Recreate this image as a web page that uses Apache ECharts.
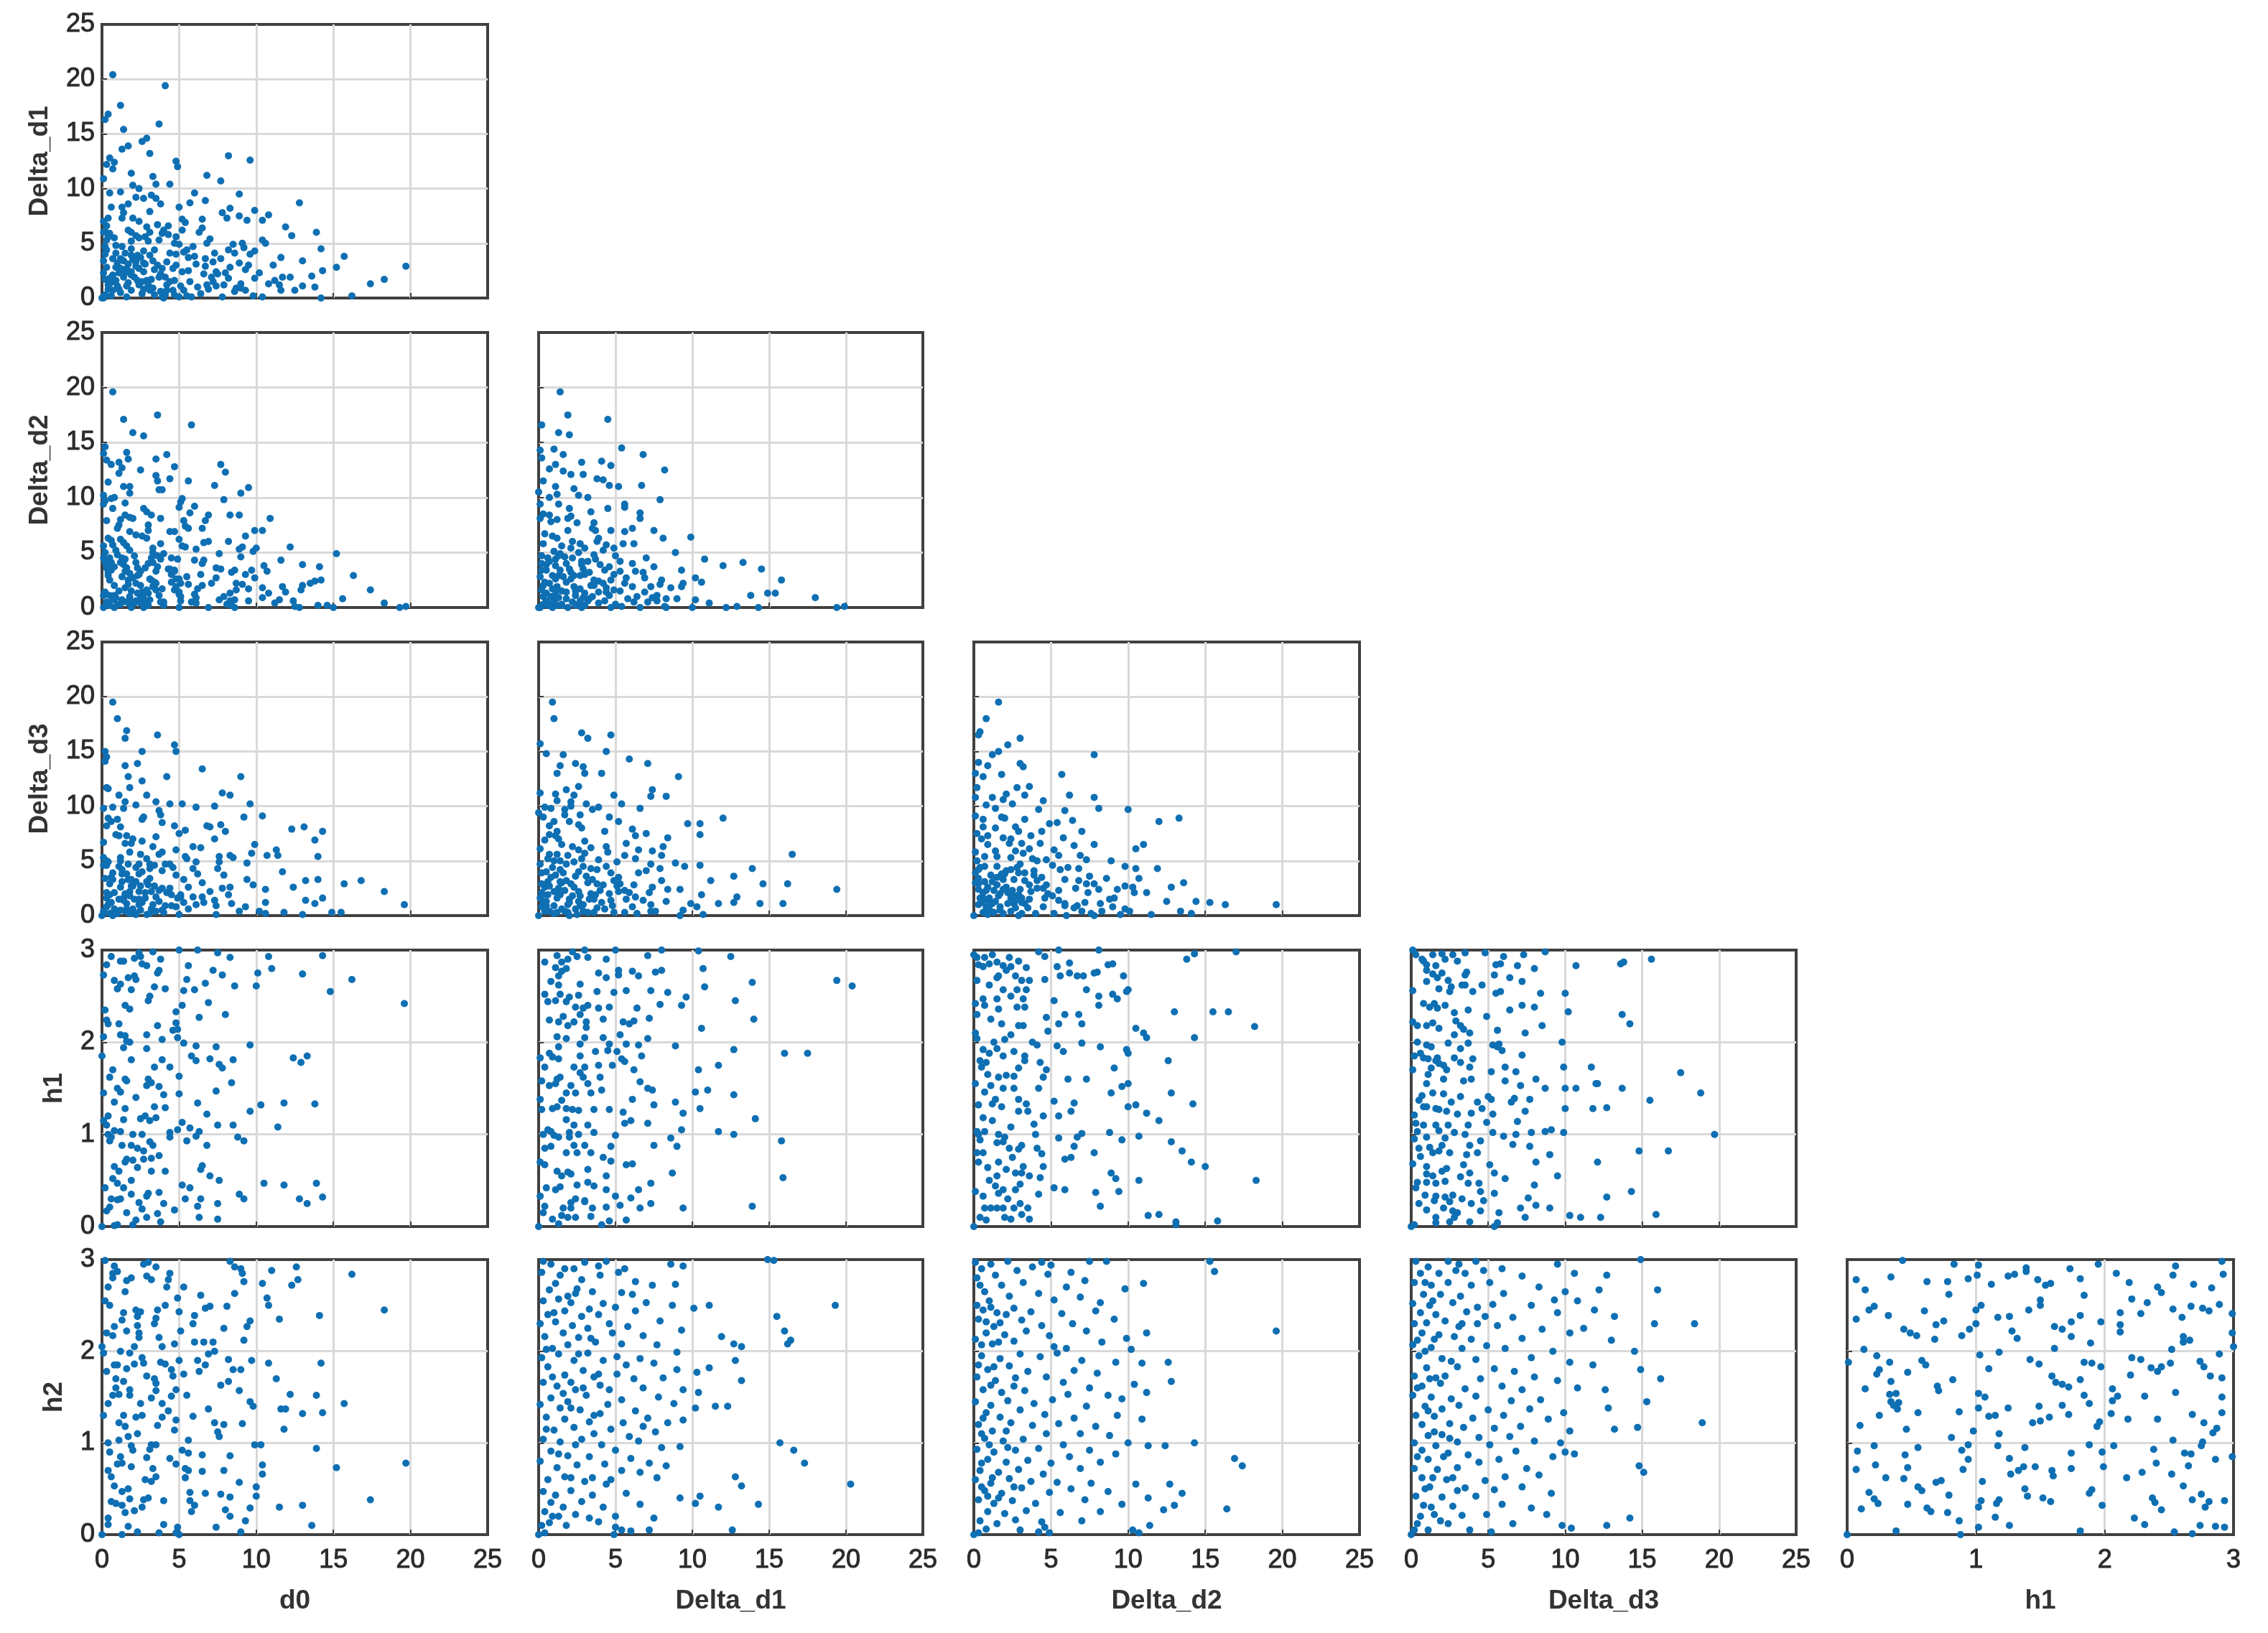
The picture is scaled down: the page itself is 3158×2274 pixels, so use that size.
<!DOCTYPE html>
<html><head><meta charset="utf-8">
<script src="https://cdn.jsdelivr.net/npm/echarts@6/dist/echarts.min.js"></script>
<style>html,body{margin:0;padding:0;background:#fff}#c{width:3158px;height:2274px}</style>
</head><body><div id="c"></div>
<script>
const variables = ['d0','Delta_d1','Delta_d2','Delta_d3','h1','h2'];

const d0_Dd1 = [[.7,20.4],[4.1,19.4],[1.2,17.6],[.4,16.8],[.2,16.3],[3.7,15.9],[1.4,15.4],[2.9,14.6],[2.6,14.3],[1.7,13.9],[1.3,13.6],[3.1,13.2],[8.2,13],[9.6,12.6],[.5,12.8],[4.8,12.5],[.8,12.4],[.3,12.2],[4.9,12],[.7,11.8],[1.9,11.4],[6.8,11.2],[3.3,11.1],[7.7,10.7],[3.5,10.4],[4.4,10.4],[.1,10.9],[2,10.3],[2.4,10],[6,9.6],[8.9,9.5],[1.2,9.7],[.5,9.6],[3.2,9.4],[2.2,9.2],[2.7,9.1],[3.5,9.1],[6.7,8.9],[12.8,8.7],[3.8,8.6],[5.7,8.7],[1.7,8.6],[5,8.3],[.6,8.3],[1.3,8.3],[8.3,8.2],[9.9,8],[3.1,7.9],[7.8,7.8],[1.4,7.8],[10.8,7.6],[8.1,7.3],[8.9,7.5],[10.4,7.1],[2,7.3],[1.3,7.3],[.4,7.3],[9.4,7.1],[6.5,7.2],[5.2,7.2],[2.4,7],[.1,7],[5.4,6.9],[11.9,6.5],[3.6,6.7],[4.3,6.6],[.3,6.6],[6.5,6.4],[2.9,6.5],[1.7,6.2],[4,6.2],[5.2,6.2],[13.9,6],[6.3,6],[12.3,5.7],[.2,6.1],[3.1,6],[4.3,5.8],[.4,5.6],[2.8,5.6],[2.4,5.5],[4.8,5.6],[7,5.4],[10.4,5.3],[3.7,5.3],[1.9,5.2],[10.6,5],[6.8,5],[3,5.2],[8.5,4.9],[9.1,5],[.9,4.8],[14.2,4.5],[.2,4.7],[5,4.9],[5.9,4.7],[1.3,4.7],[1.9,4.5],[8.2,4.4],[9.2,4.6],[2.7,4.3],[9.9,4.3],[9.6,4],[5.3,4.2],[4.4,4.1],[4.8,4],[7.3,4.1],[.9,4.1],[1.5,4.1],[8.6,4.1],[2.3,3.9],[6,3.8],[11.6,3.7],[15.7,3.8],[5.6,3.7],[7.7,3.6],[6.7,3.6],[1.2,3.6],[2,3.5],[3.3,3.4],[13,3.4],[7.2,3.3],[8.9,3.2],[4.8,3],[6.1,3.1],[1,3.2],[1.7,3.1],[2.7,3.2],[6.7,2.9],[3.6,3],[11.1,3],[19.7,2.9],[15.2,2.8],[9.5,3],[2.2,2.9],[.9,2.8],[.3,2.8],[1.6,2.7],[3.9,2.7],[8.3,2.8],[9.3,2.6],[14.3,2.5],[10.2,2.3],[5.6,2.5],[7.4,2.4],[2.7,2.4],[5.2,2.4],[.1,2.3],[1.1,2.3],[3.8,2.2],[4.7,1.6],[8,2.3],[7.5,2.2],[.7,2.1],[1.9,2.1],[2.1,1.9],[4.1,1.9],[13.6,2],[12.2,1.9],[18.3,1.7],[9.9,1.8],[7.1,1.9],[8.2,1.8],[11.7,1.9],[11.2,1.6],[3.2,1.7],[2.6,1.5],[4.4,1.5],[7.2,1.5],[.7,1.5],[1.7,1.4],[17.4,1.3],[10.8,1.3],[11.5,1.2],[6.8,1.2],[2.4,1.2],[5.1,1.1],[.5,1.3],[3,1.2],[9,1.3],[1,1.1],[13.8,1],[13,1.1],[6.9,.8],[7.4,1.1],[9,.9],[2.7,.8],[4.2,.7],[.4,.8],[1.1,.8],[12.5,.7],[11.6,.7],[8.6,.6],[9.3,.7],[5.3,.7],[6.4,.4],[3.4,.3],[4.1,.3],[4.7,.3],[5.5,.2],[16.2,.2],[14.2,0],[10.4,.1],[9.8,.2],[.2,.3],[.6,.2],[1.6,.1],[3.9,.1],[5,.1],[5.8,.1],[7.8,.1],[.1,0],[4,0],[0,0],[.3,4.4],[.7,3.6],[1.4,3.4],[1.9,3.9],[2.2,3.3],[2.5,3.7],[1.2,2.7],[1.5,2.3],[1.9,2.4],[2.4,2.7],[.5,1.8],[.9,1.6],[1.4,1.9],[2.3,1.6],[2.9,1.6],[3.4,2.6],[3.7,1.9],[4.2,1.2],[4.6,.7],[3.8,.6],[3.1,.7],[2.6,.4],[1.9,.7],[1.2,.5],[.7,.7],[.4,1.2],[.2,1.7],[.1,3.4],[.2,4],[.3,5.3],[.1,6],[.5,5.9],[.8,5.5],[1.9,6],[2.2,5.7],[3.9,5.9],[4.7,5],[5.5,4.4],[4.2,3.3],[4.6,2.7],[5.7,1.5],[6.2,1],[6.6,2.2],[7.9,1.2],[8.7,.9],[3.4,4.4],[3.1,3.9],[2.8,3.1],[3.3,.9],[1.6,1.1]];

const d0_Dd2 = [[.7,19.6],[3.6,17.5],[1.4,17.1],[5.8,16.6],[2,15.9],[2.7,15.6],[.2,14.6],[.1,14],[1.6,14.1],[4.2,13.9],[3.5,13.5],[1.7,13.5],[.3,13.4],[.6,13],[1.1,13.2],[7.7,13],[4.7,12.8],[1.3,12.7],[8,12.3],[2.5,12.5],[1.1,12.2],[3.5,12],[3.6,11.5],[4.4,11.7],[5.6,11.5],[.4,11.4],[7.3,11.1],[1.4,11],[1.8,11],[9.5,10.9],[3.7,10.7],[3.9,10.7],[9,10.4],[1.8,10.4],[.1,10.2],[.8,10],[5.2,9.9],[5.1,9.6],[7.9,9.8],[.2,9.7],[.6,9.9],[1.5,9.5],[6,9.2],[5,9.1],[.1,9.4],[.7,9],[2.7,9],[2.9,8.7],[5.7,8.6],[8.3,8.4],[8.9,8.4],[1.5,8.4],[3.2,8.4],[6.9,8.4],[1.8,8.2],[2,8.1],[3.8,8.1],[10.9,8.1],[.3,7.9],[1.2,8],[5.3,7.9],[6.7,7.9],[1.1,7.5],[3,7.5],[5.4,7.4],[5.6,7.2],[1,7.2],[6.5,7.2],[3,7],[10.4,7],[9.9,7],[4.4,6.9],[4.7,6.9],[1.8,6.9],[2.2,6.6],[9.3,6.5],[2.6,6.5],[2.9,6.3],[1.2,6.2],[.4,6.3],[.6,6.1],[5,6.2],[1.4,5.9],[6.9,6],[6.6,5.9],[8.2,6],[1.6,5.6],[3.8,5.8],[5.2,5.6],[.7,5.7],[5.4,5.5],[.1,5.6],[12.2,5.5],[3.3,5.4],[9.1,5.5],[10,5.4],[6.1,5.3],[8.9,5.3],[.9,5.2],[1.8,5.2],[9.8,5.1],[.2,5],[3.3,5],[7.6,4.9],[4,4.9],[1,4.8],[2.1,4.7],[15.2,4.9],[9,4.6],[4.5,4.5],[.5,4.5],[4.9,4.4],[1.3,4.5],[11.6,4.3],[6,4.3],[6.6,4.3],[3.8,4.4],[2.2,4.1],[3.3,4.1],[6.5,4],[3,4],[1.4,3.9],[.5,3.8],[13,3.9],[14.1,3.7],[10.5,3.8],[2.8,3.6],[3.6,3.7],[7.4,3.6],[7.7,3.5],[4.4,3.5],[8.6,3.4],[.6,3.4],[1.5,3.3],[2.5,3.3],[10.7,3.3],[9.7,3.4],[4.7,3.3],[8.4,3.2],[6.4,3],[16.3,2.9],[9.3,3],[.4,2.9],[2.3,2.9],[1.3,2.8],[5.5,2.8],[9.9,2.7],[7.4,2.7],[5,2.6],[.5,2.5],[14.2,2.5],[1.7,2.5],[3.2,2.5],[7.1,2.2],[13.8,2.4],[13.5,2.2],[8.7,2.2],[4.5,2.3],[3.5,2.2],[5.6,2.1],[1.7,2.1],[.8,2],[6.5,2],[9.1,2.1],[13,2],[2.5,2],[11.7,1.9],[4.8,1.9],[10.4,1.8],[9.5,1.7],[6.2,1.7],[3.9,1.7],[12.9,1.6],[17.4,1.6],[8.7,1.6],[1.1,1.5],[2.6,1.4],[5,1.4],[.2,1.4],[11.9,1.4],[10.8,1.3],[8.3,1.3],[6,1.2],[3,1.3],[.8,1.1],[1.8,1],[5.1,1],[7.9,1],[10.4,.9],[6.1,.9],[15.6,.8],[2.7,.8],[11.5,.7],[1.8,.7],[9.5,.6],[3.1,.7],[8.3,.6],[7.6,.7],[12.4,.6],[5.8,.5],[11.2,.4],[4,.5],[2.1,.4],[1,.3],[18.3,.4],[14,.2],[14.6,.2],[12.5,.1],[8.4,.2],[6.9,0],[19.7,.1],[.1,0],[.8,0],[1.9,0],[2.7,0],[5,0],[8.6,0],[12.8,0],[15,0],[19.3,0],[.1,4.5],[.2,4.1],[.3,3.6],[.4,3.2],[.6,4.1],[.8,3.7],[.1,1.1],[.5,1.1],[.7,.7],[.9,.9],[1.2,4.1],[1.5,4.4],[1.6,3.6],[1.8,3.1],[2,2.7],[2.2,2.2],[1.5,1.8],[1.9,1.5],[2.3,1.3],[2.5,.9],[2.2,.6],[1.8,.3],[1.6,.5],[2.5,.4],[2.9,.5],[3,.2],[2.7,1.3],[2.9,1.6],[3.3,1.9],[3.5,1.6],[3.7,1.1],[3.8,.5],[4,.2],[4.7,1.6],[5,1.2],[5.1,.6],[4.8,2.6],[5.1,2.2],[4.3,3.5],[4.5,3],[4.7,3.4],[2.3,3.6],[2.4,3],[3.6,4.7],[3.2,4.5],[3.5,3.3],[3.1,2.6],[3.4,2.3],[6.1,.4],[8.1,.3],[8.6,.7],[.3,.5],[.5,.2],[1.2,.3],[1.3,.7]];

const Dd1_Dd2 = [[1.4,19.6],[1.9,17.5],[4.5,17.1],[.2,16.6],[1.3,15.9],[2,15.7],[5.4,14.5],[.1,14.3],[1,14.4],[1.6,13.9],[6.8,13.9],[.2,13.6],[2.8,13.2],[4.1,13.3],[1.1,13],[4.7,12.9],[.7,12.6],[8.2,12.5],[1.6,12.4],[2.1,12.1],[2.9,12.1],[3.8,11.7],[4.2,11.6],[.3,11.5],[4.6,11.1],[6.7,11.1],[1.1,11],[5.2,11],[2.3,10.8],[0,10.5],[1.2,10.3],[2.6,10.2],[.7,10],[3.2,10],[5.6,9.4],[.1,9.4],[1.3,9.4],[7.9,9.8],[4.5,9],[5.6,9.1],[2,9],[3.4,8.7],[2.1,8.3],[6.6,8.1],[6.6,8.6],[.3,8.5],[.7,8.4],[1.9,8.1],[1.2,8],[.8,7.8],[.1,8.1],[3.6,7.7],[2.5,7.7],[7.5,7],[3.5,7.2],[3.7,7],[4.7,7],[6.1,7.2],[5.6,6.9],[1.9,7],[8.1,6.3],[9.9,6.4],[.4,6.7],[.9,6.5],[1.2,6.3],[2.2,6],[3.9,6.3],[5.5,5.8],[3.8,6],[1.5,5.6],[2.7,5.8],[3,5.4],[4.2,5.2],[6.2,5.8],[.3,5.8],[4.4,5.7],[4.9,5.4],[2.1,5.4],[8.9,5],[1,5.1],[2.6,5],[3.6,4.8],[1.4,4.9],[5,4.7],[5.3,4.2],[7,4.5],[10.8,4.4],[6.1,4],[.6,4.5],[2.8,4.2],[3.2,4.2],[1.8,4],[13.3,4.1],[12,3.8],[14.5,3.5],[.2,4],[1.1,3.8],[4,3.9],[2,3.5],[2.9,3.5],[4.3,3.4],[5.3,3.3],[7.5,3.7],[6.3,3.3],[6.8,3.2],[9.3,3.4],[.5,3.4],[1.4,3.4],[3.3,3.2],[15.8,2.5],[4.9,3],[10.2,2.7],[2.3,2.9],[5.7,2.7],[.1,2.8],[8,2.5],[3.6,2.5],[6.9,2.7],[1.1,2.6],[2.1,2.6],[4.2,2.2],[1.8,2.3],[5.6,2.2],[7.9,2.1],[9.4,2.2],[10.6,2.3],[9.3,1.9],[.3,2],[1.2,1.9],[2.3,1.9],[3.4,2],[6.1,1.9],[4.4,1.8],[7.3,1.9],[8.6,1.8],[.9,1.7],[2.7,1.7],[5.3,1.5],[15.4,1.3],[14.9,1.3],[13.8,1.1],[3.9,1.4],[1.8,1.4],[.5,1.3],[2.4,1.1],[4.6,1.1],[6.4,1],[7.4,.9],[8.3,.8],[10.2,.7],[9,.8],[11.1,.4],[18,.9],[3.3,.8],[1.1,.8],[.9,.4],[2.7,.6],[1.5,.3],[6.2,.5],[7.1,.5],[5,.3],[7.7,.6],[3,.2],[2.4,.2],[8.2,.1],[12.2,0],[12.9,.1],[14.3,0],[19.4,0],[19.9,.1],[.1,0],[.9,0],[1.9,0],[2.8,0],[4.7,0],[6.6,0],[8.3,0],[10,0],[0,0],[.5,.6],[.8,1],[1.1,1.2],[1.3,.9],[1.5,1.5],[1.8,.8],[1.2,1.7],[.3,1],[.2,1.6],[.7,2.2],[.9,2.9],[1.3,2.9],[1.6,2.8],[.4,2.3],[.2,3.4],[.5,3.9],[.7,4.2],[1.1,4.4],[1.3,4.7],[1.7,4.6],[.2,4.7],[2.2,.5],[2.6,.3],[2.9,.9],[3.2,.6],[2.4,1.5],[3,1.3],[3.5,1],[3.9,.4],[4.3,.6],[4.4,1.4],[4.9,1.6],[3.6,2],[3.9,2.4],[4.7,2.5],[2.7,2.9],[2.1,3.2],[3,3],[1.5,.2],[1.2,.2],[.6,.2],[.3,.3],[4.6,3.7],[5.8,.8],[5.4,.1],[6.9,1.4],[7.7,1.1],[2.8,3.9],[2.2,4.5],[3.7,4.4]];

const d0_Dd3 = [[.7,19.5],[1,18],[1.6,16.9],[1.5,16.2],[3.6,16.5],[4.7,15.6],[4.8,15],[.2,15],[.3,14.5],[.2,14.1],[2.6,15],[2.3,13.9],[1.5,13.7],[6.5,13.4],[4.2,12.7],[1.7,12.7],[2.6,12.3],[9,12.7],[1.8,11.7],[.3,11.7],[.4,11.6],[1.1,11],[7.8,11.2],[8.3,11],[2.9,11],[1.5,10.4],[3.5,10.4],[4.4,10.2],[2.2,10.1],[5.2,10.2],[9.6,10.2],[7.3,10],[6.1,9.9],[.7,9.9],[.1,9.8],[1.4,9.8],[3.7,9.6],[3.8,9.2],[2.7,9],[2.6,8.8],[1,8.8],[.4,8.9],[.6,8.6],[3.9,8.5],[10.4,9.1],[9.2,9],[7.7,8.3],[13.1,8.1],[4.7,8.2],[6.8,8.2],[7,8.1],[1.2,8.1],[.3,8.2],[5.4,7.8],[5,7.5],[8,7.7],[12.3,7.9],[3.5,7.2],[1.6,7.3],[.9,7.4],[1.1,7.3],[7.3,7],[14.3,7.7],[2,7],[2.6,6.8],[1.5,6.6],[.1,6.7],[1.9,6.6],[9.9,6.5],[13.8,6.9],[3.3,6.3],[6.4,6.2],[5.9,6.3],[9.7,5.7],[1.8,5.8],[3.9,5.8],[11.3,6],[4.8,6],[2.5,5.6],[8.3,5.5],[8.5,5.3],[10.7,5.5],[5.4,5.4],[7.6,5.4],[1.2,5.3],[11.4,5.5],[3.7,5.6],[14,5.4],[.1,5.3],[1.2,5],[.3,5],[2.9,5.2],[5.5,5.2],[6.1,4.9],[7.6,4.9],[3.1,4.7],[1.7,4.7],[9.4,4.8],[2.4,4.7],[2.2,4.4],[4.4,4.7],[7.5,4.3],[.1,4.6],[11.7,4],[5.9,4.3],[3.9,4.1],[.7,3.9],[1.6,3.8],[2.4,3.8],[13.2,3.2],[6.2,3.8],[7.9,3.7],[4.8,3.7],[14,3.3],[15.7,2.9],[16.8,3.2],[.6,3.5],[1.9,3.3],[9.4,3.3],[5.3,3.3],[6.5,3],[3.1,3.4],[1.3,3.1],[9.8,2.8],[12.4,2.6],[3,2.8],[7.8,2.5],[10.6,2.4],[.5,2.9],[8.3,2.6],[2,2.7],[2.5,2.7],[4.4,2.5],[5.6,2.6],[3.9,2.5],[1.2,2.6],[1.8,2.2],[18.3,2.2],[7,2.2],[3.2,2.2],[.8,2.1],[8.2,1.9],[4.9,1.6],[2.8,2.1],[5.1,1.7],[6.5,1.7],[7.3,1.4],[10.6,1.2],[13.2,1.4],[13.8,1.1],[14.3,1.6],[1.4,1.6],[1.1,1.5],[.3,1.6],[3.7,1.3],[2.4,1.5],[.6,1.2],[8.4,1.1],[5.3,1.2],[19.6,1],[1.6,1.1],[2.4,1],[3.3,1],[4.5,.9],[6.1,1],[7.4,.9],[.3,.8],[2,.6],[1.5,.4],[3.5,.4],[2.5,.5],[5.6,.6],[8.9,.4],[10.2,.4],[11.8,.3],[14.9,.3],[15.5,.3],[13,.1],[4,.3],[5,.1],[1,.2],[2.2,.1],[3.1,.2],[7.4,.1],[.1,.4],[0,0],[.7,0],[.4,1],[.8,.6],[1.2,.5],[1.4,1.4],[1.5,2],[1.8,1.8],[.3,2.1],[.5,1.9],[1.9,2.7],[2.1,1.5],[2.4,2.2],[2.8,1.6],[2.6,1.2],[3.4,2.7],[3.7,2.3],[3.5,1.7],[4.2,2.1],[4.5,1.9],[1.6,.6],[2.1,.3],[3.2,.6],[3.9,.5],[4.1,.9],[4.8,.8],[5.1,1.9],[2.9,3.1],[2.2,3.1],[1.3,3.8],[.2,3.4],[.7,3.3],[.3,4.6],[.4,4.9],[1.1,4.5],[1.3,4.2],[1.7,3.3],[2.6,4],[3.1,4.3],[3.4,4.6],[4.6,4.4],[4.1,4.7],[.5,.2],[1.8,.2],[2.9,.1],[5.9,1.7],[6.6,1.2],[9.3,.8],[10.6,.2]];

const Dd1_Dd3 = [[.9,19.5],[1,18],[2.8,16.7],[3.2,16.2],[4.7,16.5],[.1,15.7],[.5,14.8],[1.6,14.7],[4.4,15],[5.9,14.3],[7.1,13.9],[1.4,13.7],[2.4,13.9],[2.9,13.6],[3,13],[1.2,13],[4.1,13],[9.1,12.7],[2.6,11.8],[1.8,11.5],[7.4,11.5],[2.3,11],[.1,11.2],[1.1,11.1],[4.9,11],[7.3,10.9],[8.3,10.9],[1.2,10.5],[2.1,10],[2.1,10.4],[3.1,10.2],[.4,9.9],[.8,9.8],[1.7,9.7],[3.9,9.9],[5.4,10.2],[6.6,9.8],[1.7,9.2],[3.5,9.7],[0,9.4],[.3,9],[2.7,9.2],[12,8.9],[4.6,9],[1,8.6],[2,8.6],[5.2,8.6],[9.7,8.4],[10.5,8.4],[.7,8.2],[2.6,8.3],[2.8,8],[6.1,7.9],[7,7.5],[1.2,7.7],[4.3,7.7],[.7,7.4],[8.4,7.1],[1.1,7.3],[6.3,7.3],[1.3,7],[10.5,7.4],[.4,6.9],[3,6.8],[2.2,6.3],[4.4,6.3],[5.7,6.6],[3.4,6.2],[8.1,6.3],[1.5,6.5],[.1,6.1],[6.5,6],[7.4,5.9],[2.6,6],[4.5,5.8],[5.6,5.5],[8,5.5],[.7,5.6],[1.2,5.6],[1.9,5.5],[3,5.7],[16.5,5.6],[6.3,5.2],[2.8,5.2],[3.9,5.1],[1.4,5],[1,5],[.6,5.2],[2.3,4.9],[5.1,4.9],[7.3,4.7],[8.9,4.8],[10.5,4.6],[.1,4.7],[3.8,4.2],[2.9,4.5],[.9,4.4],[7.9,4.3],[9.5,4.5],[13.9,4.3],[7,4.1],[4.7,3.9],[6.5,3.9],[1.6,3.9],[1.1,3.7],[.2,3.9],[3.1,3.6],[2.4,3.6],[5.2,3.5],[12.7,3.6],[11.2,3.2],[8,3.2],[14.6,2.9],[16.2,2.9],[1.4,3.1],[.6,3.1],[1.5,3],[3.2,3],[5.3,2.9],[4.2,2.8],[2.1,2.9],[.4,2.6],[2.3,2.6],[6.2,2.8],[9.2,2.4],[7.4,2.6],[5.6,2.3],[8.4,2.4],[19.4,2.4],[.2,2.1],[1.2,2.1],[2.6,2.2],[3.4,2],[5.2,2.2],[4.6,2],[7.2,2.1],[.6,1.9],[1.4,1.9],[2.7,1.8],[6.3,1.7],[12.9,1.7],[10.6,1.9],[1.2,1.6],[3.6,1.5],[5.7,1.5],[8.3,1.3],[.3,1.3],[2,1.5],[4.1,1.2],[9.9,1.1],[11.7,1.1],[14.4,1.1],[12.7,1.2],[15.9,1.1],[7.3,1],[1.9,1],[2.7,.9],[4.8,.9],[.5,.9],[6.1,.8],[3.8,.7],[9.4,.5],[10.3,.8],[.7,.4],[1.7,.4],[3.2,.3],[5.6,.3],[7.6,.4],[4.9,.3],[2.5,.1],[6.4,.2],[10.7,.1],[0,0],[2,0],[9.2,0],[.3,1.9],[.5,1.3],[.7,2.7],[1,2.2],[1.3,2.5],[1.7,2.3],[1,.9],[1.5,.6],[1.9,.3],[2.2,1.8],[2.6,1.3],[2.9,1],[3.3,1.5],[3.7,1.9],[4,2.3],[.2,.8],[.1,1.6],[.4,.4],[1,.2],[1.2,.3],[2,1.2],[2.4,.6],[2.9,.4],[3.6,.3],[4.3,.6],[4.7,1.4],[5.1,2.7],[4.9,3.2],[3.5,3.3],[3.8,2.9],[1.8,3.2],[.8,3.5],[.2,2.9],[.5,4],[1.4,4.2],[1.8,4.7],[2.6,4],[3.4,4.3],[4.4,4.5],[5.9,2.1],[6.8,1.4],[7.3,.4]];

const Dd2_Dd3 = [[1.6,19.5],[.8,18],[.4,16.8],[.3,16.5],[3,16.2],[2.2,15.6],[1.6,15],[1.2,14.7],[7.8,14.7],[.3,14],[3,13.9],[3.2,13.6],[.9,13.7],[1.8,12.9],[.1,13],[5.7,12.9],[.6,12.7],[.2,11.7],[2.8,11.7],[3.6,11.8],[2.1,11.1],[3.3,11],[6.2,11],[7.8,10.8],[1.2,10.8],[1.9,10.6],[.1,10.8],[4.5,10.5],[2.5,10.2],[.8,10.1],[1.4,9.8],[5.9,9.6],[8.1,9.8],[10,9.7],[4.2,9.7],[.1,9.1],[1.8,9],[2,8.9],[.6,8.8],[6.4,8.7],[12,8.6],[13.3,8.9],[3.3,8.8],[4.9,8.4],[5.4,8.5],[1.4,8],[.6,8.1],[2.7,8.1],[2.9,7.7],[7,7.7],[.2,7.5],[.9,7.3],[3.7,7.3],[5.8,7.1],[4.4,7.7],[1.9,7.1],[2.4,7],[.5,7],[2.3,6.6],[4.3,6.6],[6.5,6.4],[7.8,6.5],[11,6.5],[3.1,6.6],[.9,6.5],[3.6,6.1],[5.2,6],[10.5,6.1],[1.4,5.9],[2.7,5.9],[.1,5.8],[1.5,5.4],[3.2,5.7],[5.5,5.5],[6.9,5.5],[.7,5.4],[7.3,5.1],[2.4,5.3],[3.8,5.2],[4.7,5.1],[8.9,5],[5.1,4.6],[.2,5],[4.1,5],[3,4.7],[9.8,4.5],[.4,4.4],[1.5,4.5],[2.8,4.4],[10.5,4.3],[6.1,4.4],[6.8,4.3],[5.6,4.2],[11.9,4.3],[2.1,4.1],[.1,3.9],[3.9,3.7],[4.4,3.5],[7.5,3.6],[1.5,3.5],[2,3.8],[8.6,3.4],[10.7,3.4],[6.8,3.2],[.7,3.1],[1.2,3.1],[1.9,3.3],[3.3,3.2],[5.9,3.3],[2.6,3.3],[.3,2.9],[1.5,2.8],[3.6,2.8],[4.7,2.8],[7.3,2.9],[7.8,2.9],[9.8,2.7],[10.3,2.6],[13.6,3],[12.8,2.6],[.9,2.6],[2.1,2.6],[3,2.4],[6.6,2.5],[8.1,2.4],[9.3,2.4],[2.5,2.3],[5.5,2.3],[.3,2.4],[1.3,2.3],[4.1,2.5],[7.4,2.1],[10.4,2.1],[11.2,2.1],[1.7,2],[2.9,1.9],[5.1,1.8],[.6,1.6],[1,1.6],[2.4,1.6],[4.6,1.6],[9.1,1.6],[8.8,1.5],[12.5,1.3],[14.4,1.3],[15.3,1.2],[7.2,1.2],[1.4,1.3],[3.1,1.2],[8.2,1.1],[16.3,1],[.3,1],[2.6,1.1],[5.9,1.1],[6.7,.9],[4.5,.8],[1.7,.8],[.8,.8],[3.5,.7],[9,.8],[9.8,.6],[10.1,.4],[13.4,.4],[14.1,.2],[19.6,1],[2.4,.4],[1.9,.2],[4,.2],[5.2,.2],[7.6,.2],[.8,.4],[9.5,.1],[11.5,.1],[3.1,.2],[0,0],[2.9,0],[6,0],[7.8,0],[.1,3],[.3,3.4],[.4,1.6],[.6,2.1],[.8,2.3],[.5,1.2],[.9,1.4],[1.2,1.1],[1,.6],[1.3,.3],[.6,.3],[.9,.1],[1.6,1.8],[1.9,2.4],[2.2,2.1],[2.5,1.9],[2.7,1.4],[2.2,1.1],[1.7,.5],[2.7,.7],[3.3,1.1],[3.6,1.5],[3.1,1.6],[3.7,2.2],[4.5,2.5],[4.8,2],[1.1,3.7],[.3,4.2],[.7,4.5],[1.8,3.8],[2.4,4.2],[2.9,3.9],[3.3,3.9],[3.9,4.1],[4.1,3.2],[5.5,1.4],[5.9,.9],[6.5,.7],[7,.4],[8.3,.4]];

const d0_h1 = [[.6,2.93],[1.2,2.88],[2.4,2.97],[1.4,2.88],[2.1,2.91],[2.5,2.93],[3.3,2.98],[3.8,2.9],[5,3],[6.2,3],[7.5,2.97],[8.3,2.92],[10.8,2.93],[14.3,2.94],[2.6,2.85],[.3,2.84],[.1,2.73],[2.9,2.83],[3.6,2.75],[7.2,2.78],[10.1,2.75],[5.6,2.83],[7.8,2.73],[13,2.74],[11,2.8],[16.2,2.68],[10,2.61],[8.6,2.61],[3.7,2.78],[5.5,2.68],[2.1,2.72],[1.7,2.7],[.8,2.67],[1.2,2.63],[2.2,2.68],[6.7,2.64],[6,2.57],[1,2.58],[1.9,2.57],[3.4,2.6],[3.1,2.5],[5.3,2.56],[6.9,2.43],[14.8,2.55],[19.6,2.42],[4.1,2.58],[5.2,2.4],[.2,2.35],[3,2.45],[1.5,2.4],[8,2.3],[1.8,2.36],[.3,2.24],[6.3,2.27],[.4,2.2],[4.8,2.33],[3.6,2.18],[4.8,2.21],[4.9,2.14],[4.6,2.13],[1.1,2.2],[4.9,2.05],[1.2,2.08],[1.5,2.07],[.1,2.06],[2.9,2.08],[3.9,2.03],[1.6,2.01],[1.8,2],[5.3,1.99],[6.1,1.96],[9.6,1.97],[13.3,1.85],[12.4,1.83],[1.4,1.94],[2.9,1.93],[7,1.82],[8.5,1.81],[0,1.85],[3.9,1.81],[5.8,1.85],[6.1,1.8],[7.4,1.95],[1.9,1.81],[12.9,1.78],[.5,1.62],[.7,1.7],[3.4,1.73],[4.4,1.73],[5,1.63],[7.6,1.76],[7.8,1.72],[1.5,1.6],[1.6,1.58],[3,1.6],[8.4,1.56],[3.2,1.56],[5,1.44],[2.9,1.53],[7.4,1.47],[3.7,1.52],[.1,1.45],[1,1.5],[1.2,1.46],[2.2,1.4],[4,1.43],[10.3,1.32],[.8,1.35],[1.5,1.28],[3.4,1.3],[4.1,1.29],[6.2,1.34],[9.6,1.25],[11.8,1.34],[13.8,1.33],[.4,1.2],[.3,1.1],[2.8,1.2],[3.5,1.18],[6.8,1.22],[5.2,1.13],[5.7,1.07],[7.5,1.1],[8.5,1.1],[11.4,1.08],[.1,1.15],[1.4,1.16],[2.5,1.17],[3.1,1.15],[4.9,1.05],[6.1,.98],[6.3,1.03],[8.8,.97],[9.2,.93],[.4,1],[.8,1.04],[1.2,1.03],[2,1],[.5,.93],[2.6,1],[4.4,1.02],[4.4,.97],[3.1,.92],[5.5,.93],[3.3,.88],[2.3,.85],[6.8,.88],[1.3,.88],[1.9,.88],[.6,.97],[1.6,.73],[2.7,.82],[3.7,.77],[2.7,.73],[1.5,.7],[3.2,.74],[6.5,.66],[6.4,.62],[7,.55],[.8,.65],[1.1,.6],[2,.72],[2.3,.64],[3.2,.6],[4.1,.6],[7.6,.5],[5.2,.45],[.7,.52],[1,.47],[1.4,.42],[1.9,.5],[3.7,.37],[5.7,.42],[13.9,.47],[10.5,.47],[11.8,.45],[.2,.42],[2.9,.33],[1.9,.35],[1.2,.3],[3,.36],[5.4,.3],[8.9,.35],[6.4,.3],[12.8,.3],[13.3,.25],[14.3,.32],[.6,.3],[1,.29],[2.4,.26],[4,.25],[7.5,.25],[6.2,.22],[9.2,.3],[.5,.21],[2.6,.19],[3.6,.14],[4.7,.18],[1.6,.15],[.3,.17],[2.9,.1],[2.2,.07],[3.8,.05],[7.5,.08],[0,0],[.8,.01],[2,.02],[1,.02],[6.3,.1]];

const Dd1_h1 = [[1.2,2.94],[1.5,2.87],[2.2,2.98],[3,3],[5,3],[8,3],[10.4,2.99],[12.5,2.93],[1.9,2.9],[2.5,2.93],[3.2,2.92],[.4,2.87],[1.1,2.81],[1.5,2.77],[4.4,2.9],[7.1,2.94],[8,2.78],[10.7,2.8],[5.2,2.78],[6.1,2.77],[7.6,2.76],[1.3,2.72],[1.8,2.8],[3.9,2.75],[4.4,2.7],[5.2,2.73],[6.5,2.72],[10.8,2.6],[13.9,2.65],[19.4,2.67],[20.4,2.61],[.8,2.66],[1.3,2.62],[2.7,2.63],[3.8,2.55],[5.7,2.56],[4.9,2.54],[7.3,2.56],[8.4,2.54],[9.6,2.49],[12.8,2.45],[.4,2.52],[1.4,2.52],[2,2.49],[2.6,2.51],[2.9,2.37],[3.2,2.4],[.6,2.44],[1.1,2.45],[1.8,2.44],[3.9,2.37],[4.6,2.38],[6.4,2.37],[7.9,2.41],[9.3,2.4],[2.4,2.38],[4.2,2.25],[5.5,2.22],[2.7,2.3],[1.6,2.28],[3.1,2.22],[5.9,2.2],[6.2,2.23],[7.2,2.26],[10.6,2.15],[14,2.25],[.7,2.24],[1.3,2.22],[1.9,2.18],[2.3,2.22],[3.1,2.16],[7.1,2.04],[5.3,2.08],[8.9,1.96],[1.2,2.06],[1.8,2.04],[2.7,1.98],[4.2,2.05],[4.6,1.98],[3,2.05],[5.7,1.98],[6.5,1.97],[12.7,1.92],[16,1.88],[17.5,1.88],[1.3,1.95],[.7,1.88],[.9,1.84],[2.7,1.85],[3.7,1.9],[4.5,1.91],[5.1,1.9],[.1,1.83],[1.3,1.82],[5.4,1.82],[6.7,1.85],[11.7,1.75],[10.4,1.7],[.4,1.73],[2.3,1.73],[3,1.73],[3.9,1.75],[5.6,1.79],[1.2,1.6],[1.4,1.62],[2.7,1.67],[2.9,1.62],[4,1.62],[4.8,1.75],[6.2,1.7],[.2,1.58],[6.6,1.57],[10.2,1.46],[11,1.48],[12.7,1.43],[7.1,1.5],[.7,1.53],[1.1,1.55],[2.1,1.53],[3.2,1.55],[4.1,1.48],[7.4,1.48],[1.8,1.45],[2.4,1.45],[3.4,1.45],[.1,1.38],[1.5,1.37],[1.2,1.3],[.9,1.28],[6.1,1.38],[9.4,1.23],[8.9,1.35],[7.5,1.32],[.2,1.27],[2.6,1.26],[1.8,1.28],[5.5,1.24],[4.6,1.27],[10.5,1.28],[3.6,1.27],[2.2,1.27],[1.8,1.16],[14.1,1.17],[7.1,1.12],[5.6,1.12],[6,1.15],[9.3,1.05],[3.2,1.1],[2.3,1.1],[.6,1.05],[.8,1.03],[1,.99],[2,1.02],[3.6,1.02],[2.6,1],[.3,1],[11.7,1.03],[12.7,1],[5,.99],[1.3,.97],[2,.97],[15.8,.93],[8.6,.96],[9,.87],[7.5,.88],[.4,.85],[.8,.87],[4.7,.87],[2.3,.88],[3,.88],[3.4,.8],[1.8,.8],[2.5,.8],[4.2,.75],[4.7,.71],[5.7,.67],[6.1,.68],[.4,.67],[1.2,.6],[3.2,.62],[1.9,.59],[2.1,.57],[4.4,.55],[8.7,.58],[15.9,.53],[.1,.7],[1.5,.55],[3.2,.48],[3.6,.44],[2.5,.45],[7.3,.47],[.5,.42],[1.4,.43],[1.1,.4],[4.4,.4],[6.5,.4],[5,.33],[2.4,.3],[3,.27],[6,.31],[.1,.33],[2.1,.26],[3,.28],[5.3,.23],[13.9,.22],[.4,.22],[1.6,.2],[2.1,.2],[3.5,.2],[4.4,.21],[7.3,.25],[6.6,.2],[9.4,.2],[.3,.15],[1.5,.12],[2.4,.1],[1.9,.1],[3.4,.11],[4.6,.06],[5.7,.07],[.9,.08],[0,0],[4.1,.02],[1.3,.03]];

const Dd2_h1 = [[0,2.95],[.2,2.92],[.3,2.84],[.7,2.92],[1.2,2.95],[1.5,2.87],[2.3,2.92],[4.6,2.93],[8.1,3],[5.5,3],[2.9,2.88],[4.2,2.98],[13.8,2.9],[14.3,2.96],[17,2.98],[8,2.76],[.6,2.82],[1,2.85],[1.9,2.83],[2.1,2.78],[2.4,2.82],[3.4,2.81],[5.4,2.82],[7.8,2.75],[6.2,2.86],[8.7,2.84],[9,2.85],[9.7,2.72],[1.6,2.72],[.2,2.67],[2.7,2.72],[4.6,2.68],[5.6,2.72],[6.2,2.75],[6.7,2.72],[1.5,2.7],[3.1,2.67],[3.6,2.67],[7.1,2.72],[9.9,2.55],[10,2.57],[1,2.62],[1.9,2.57],[2.8,2.57],[3.4,2.57],[7.3,2.57],[8.1,2.5],[9,2.52],[9.3,2.47],[.6,2.47],[1.5,2.47],[2.4,2.5],[3.2,2.47],[5.2,2.45],[8.1,2.4],[13,2.33],[15.5,2.33],[16.5,2.33],[18.2,2.17],[.1,2.42],[.7,2.4],[1.6,2.36],[2.8,2.38],[3.3,2.38],[5.9,2.3],[6.8,2.3],[.2,2.3],[1.1,2.25],[1.8,2.2],[2.9,2.18],[3.2,2.18],[4.7,2.27],[5.5,2.2],[7,2.2],[10.5,2.15],[11,2.1],[11.2,2.05],[14.3,2.05],[.1,2.1],[2.4,2.08],[2,2.03],[4.8,2.12],[.2,2.04],[1.3,2],[3.8,2],[5.4,1.96],[4.1,1.97],[7,1.99],[8.2,1.95],[1.5,1.93],[.6,1.92],[1.9,1.85],[2.6,1.9],[3.3,1.85],[5.8,1.9],[9.9,1.92],[10,1.88],[12.6,1.8],[.4,1.8],[1,1.88],[.8,1.78],[3.3,1.8],[4.3,1.78],[4.7,1.7],[2.9,1.72],[9.1,1.72],[.5,1.73],[.9,1.65],[1.6,1.62],[2.6,1.63],[2.1,1.64],[4.5,1.62],[6.1,1.6],[7.3,1.6],[10,1.55],[9.6,1.52],[12.8,1.45],[.1,1.55],[1.1,1.53],[1.9,1.5],[2.6,1.5],[4.2,1.5],[8.9,1.45],[.7,1.46],[1.4,1.38],[2.9,1.38],[3.4,1.33],[5.2,1.36],[6.5,1.34],[10,1.3],[10.5,1.32],[14.2,1.33],[.3,1.32],[1.2,1.33],[1.8,1.3],[3.5,1.25],[2.9,1.25],[6.3,1.25],[11.2,1.23],[12,1.15],[4.5,1.2],[5.5,1.2],[.6,1.18],[1.2,1.15],[2.4,1.08],[3.9,1.11],[.2,1.03],[.7,1.03],[1.6,1],[2,.97],[1.9,.92],[.3,1],[4,1],[5.5,.96],[7,1.01],[8.8,1.02],[9.6,.94],[10.7,.98],[12.8,.92],[6.7,.97],[.4,.94],[1.5,.91],[2.3,.85],[3.1,.88],[4.1,.85],[4.4,.79],[6.5,.87],[.6,.8],[2.9,.84],[2.5,.75],[6.3,.75],[7.8,.8],[.2,.8],[1.6,.7],[13.5,.82],[14.1,.7],[5.9,.73],[3.2,.65],[4.5,.65],[2.1,.62],[.3,.7],[.9,.64],[2.7,.58],[3.1,.58],[8.9,.58],[9.2,.52],[15,.65],[3.6,.55],[4.3,.53],[10.7,.5],[1.5,.55],[1,.5],[1.4,.44],[1.9,.4],[.1,.38],[2.7,.4],[3,.46],[5.2,.42],[5.9,.4],[7.9,.37],[9.4,.38],[18.3,.5],[4.2,.35],[.6,.33],[1.6,.36],[2.2,.3],[3,.25],[3.5,.2],[2.6,.2],[1.9,.2],[1.5,.2],[1.1,.2],[8.2,.22],[.4,.1],[.7,.2],[3.1,.13],[11.3,.12],[12,.13],[2,.1],[2.4,.08],[.8,.07],[3.6,.08],[13.1,.05],[15.8,.06],[13.1,.02],[0,0]];

const Dd3_h1 = [[.1,3],[.3,2.95],[.7,2.9],[1.4,2.95],[2,2.96],[2.7,2.95],[3.5,2.97],[4.8,2.97],[6,2.93],[7.3,2.95],[8.7,2.98],[3,2.88],[2.2,2.9],[1,2.84],[.8,2.88],[1.6,2.83],[5.5,2.84],[5.8,2.85],[6.9,2.83],[8,2.8],[10.7,2.83],[13.8,2.87],[13.6,2.85],[15.6,2.9],[1,2.78],[1.4,2.74],[2,2.75],[3.6,2.76],[3.5,2.73],[5.4,2.73],[6.4,2.7],[7.2,2.66],[4.6,2.62],[3.3,2.62],[1,2.66],[2.4,2.67],[3.5,2.62],[.1,2.56],[1.7,2.7],[2.6,2.6],[1.8,2.58],[2.5,2.55],[4,2.55],[5.8,2.55],[5.5,2.53],[8.4,2.53],[10,2.53],[.8,2.42],[1.5,2.42],[1.7,2.37],[2.2,2.4],[3.7,2.35],[6.4,2.35],[7.2,2.4],[8,2.38],[1.2,2.38],[2.8,2.32],[4.9,2.28],[10.2,2.33],[13.7,2.3],[1.4,2.21],[3.2,2.18],[3.4,2.14],[5.6,2.13],[2.9,2.23],[.1,2.22],[.4,2.18],[1,2.18],[1.8,2.15],[7.4,2.1],[9.8,2],[2.8,2.08],[3.8,2.1],[8.5,2.18],[14.2,2.2],[.4,2],[1,1.97],[1.3,1.95],[2.4,1.99],[3.7,1.99],[5.3,1.97],[5.7,1.98],[5.9,1.91],[3.2,1.93],[7.2,1.86],[.6,1.88],[1.1,1.82],[1.7,1.83],[2.8,1.83],[4,1.82],[5.6,1.95],[.2,1.85],[1.8,1.77],[2.1,1.75],[1.6,1.8],[3.2,1.78],[.8,1.83],[6.1,1.73],[9.9,1.73],[11.7,1.73],[.1,1.7],[1.3,1.72],[1.1,1.65],[2.3,1.7],[3.8,1.73],[5.2,1.68],[6.8,1.68],[8.1,1.6],[12,1.55],[12.1,1.55],[17.5,1.67],[1,1.55],[2.1,1.6],[3.4,1.58],[3.9,1.6],[6.1,1.58],[8.7,1.5],[7.1,1.53],[10,1.5],[10.7,1.5],[13.7,1.5],[.7,1.42],[1.4,1.45],[2.1,1.44],[3.2,1.41],[5,1.41],[4.3,1.35],[6.7,1.39],[7.7,1.38],[18.8,1.45],[.5,1.37],[1,1.3],[1.6,1.28],[2.6,1.35],[5.2,1.38],[.2,1.21],[2.3,1.25],[3.9,1.23],[4.6,1.28],[6.5,1.35],[.8,1.3],[1.8,1.27],[3,1.22],[7.4,1.25],[10,1.28],[11.8,1.28],[12.7,1.29],[15.5,1.37],[5.3,1.22],[.3,1.12],[.8,1.1],[1.6,1.1],[2.4,1.1],[3.7,1.1],[4.9,1.13],[6.9,1.14],[9.1,1.05],[.4,1.03],[1.8,1.04],[2.8,1.02],[3.5,1],[5.3,1.02],[6.8,1],[7.8,1.02],[8.7,1.03],[9.9,1.02],[19.7,1],[1,.97],[2.2,.96],[4.5,.93],[6,.98],[.2,.95],[1.2,.86],[2,.88],[3.8,.88],[7.7,.87],[.5,.85],[1.4,.8],[2.5,.8],[6.6,.89],[9,.78],[14.8,.82],[16.7,.82],[.6,.76],[1.8,.82],[3.6,.78],[4.3,.8],[8.1,.7],[12.1,.7],[.1,.68],[1,.65],[2.3,.63],[3.4,.67],[3.8,.58],[5.1,.67],[1,.57],[1.4,.55],[2,.6],[3.2,.54],[5.4,.58],[6.1,.52],[9.5,.55],[.4,.48],[1,.48],[1.6,.47],[2.2,.49],[3.7,.47],[4.4,.47],[8,.45],[.3,.42],[1.6,.33],[2.2,.32],[2.7,.34],[3.3,.3],[4.5,.38],[5.4,.36],[7.6,.31],[12.7,.32],[14.3,.38],[.9,.34],[1.5,.28],[2.5,.27],[4.7,.28],[.5,.25],[2.1,.2],[2.7,.17],[3,.15],[3.9,.25],[7.1,.2],[8.1,.23],[9,.2],[10.3,.12],[12.3,.1],[15.9,.13],[1,.18],[1.6,.1],[2.8,.1],[4.5,.17],[5.7,.15],[7.4,.1],[11,.1],[1.6,.04],[2.5,.05],[3.8,.05],[5.6,.04],[.2,.02],[0,0],[5.4,0]];

const d0_h2 = [[.2,2.99],[.8,2.93],[2.7,2.95],[3,2.97],[3.5,2.92],[8.3,2.98],[8.6,2.92],[9,2.9],[11,2.88],[12.6,2.92],[.7,2.85],[1,2.87],[2.9,2.82],[3.2,2.78],[.7,2.8],[4.4,2.85],[4.3,2.78],[9.1,2.85],[12.7,2.78],[16.2,2.84],[1.6,2.77],[1.9,2.8],[4.2,2.7],[9.2,2.76],[10.4,2.74],[12.3,2.72],[.4,2.7],[1.5,2.65],[5.3,2.7],[6.4,2.61],[8.6,2.63],[10.7,2.58],[.2,2.55],[4.9,2.58],[.5,2.5],[8.1,2.49],[7,2.49],[6.7,2.47],[10.8,2.5],[4.1,2.5],[3.6,2.45],[5,2.43],[2.2,2.45],[2.5,2.43],[1.4,2.42],[1.3,2.34],[6,2.39],[14.1,2.39],[18.3,2.45],[3.5,2.36],[2.3,2.38],[5.9,2.3],[9.6,2.33],[11.5,2.35],[.8,2.27],[2.3,2.28],[3.4,2.3],[1.6,2.22],[9.4,2.27],[7.9,2.25],[.3,2.2],[5.1,2.22],[.7,2.17],[2.4,2.2],[2.4,2.15],[9.2,2.12],[3.7,2.15],[6,2.1],[6.6,2.1],[7.2,2.1],[4.7,2.08],[3.9,2.05],[2.1,2.05],[7.3,2],[6.9,1.97],[1.2,2],[1.8,1.98],[.1,1.98],[0,2.05],[2.6,1.93],[6.7,1.85],[9.7,1.9],[10.8,1.87],[6.2,1.9],[14.2,1.87],[5,1.9],[8.2,1.91],[3.8,1.88],[4.1,1.86],[2.1,1.86],[1,1.85],[.8,1.85],[2.7,1.87],[1.6,1.81],[4.5,1.8],[8.5,1.8],[9,1.8],[6.3,1.78],[5.3,1.75],[.3,1.78],[4.6,1.73],[2.9,1.73],[3.4,1.7],[.9,1.7],[1.4,1.67],[3.5,1.65],[8.2,1.67],[7.7,1.63],[11.3,1.7],[.9,1.6],[1.8,1.58],[3.5,1.57],[4.8,1.58],[8.9,1.57],[12.2,1.53],[.7,1.52],[1.1,1.53],[1.8,1.52],[5.5,1.52],[3.2,1.49],[4.5,1.51],[13.9,1.52],[15.7,1.43],[.4,1.43],[2.5,1.43],[3.9,1.43],[9.6,1.45],[9.8,1.4],[11.6,1.37],[11.9,1.37],[6.9,1.37],[4.3,1.35],[13,1.32],[14.3,1.33],[2.6,1.3],[2.2,1.28],[3.9,1.28],[5.9,1.29],[1.4,1.3],[.1,1.3],[4.8,1.25],[1.1,1.22],[7.3,1.22],[7.9,1.2],[9.1,1.21],[3.6,1.19],[1.5,1.18],[4.7,1.14],[11.8,1.15],[7.5,1.12],[2.3,1.1],[7.6,1.07],[1.7,1.07],[1.1,1.03],[5.6,1.03],[.4,1],[3.2,.98],[3.5,.98],[9.9,.98],[10.3,.98],[1.9,.97],[13.9,.94],[.5,.9],[2,.92],[3.1,.93],[5.2,.92],[5.6,.89],[6.5,.87],[8.3,.86],[1.2,.85],[2.9,.84],[4.4,.83],[1.3,.78],[1,.77],[1.9,.74],[4.8,.77],[15.2,.73],[19.7,.78],[10.4,.76],[3.3,.72],[5.4,.72],[5.6,.7],[.4,.7],[6.5,.69],[7.9,.7],[10.4,.66],[.6,.63],[3.5,.63],[2.8,.6],[5.4,.62],[3.2,.58],[8.9,.57],[.8,.53],[10,.52],[1.7,.5],[1.3,.47],[5.7,.46],[6.7,.45],[7.7,.44],[10,.42],[8.3,.41],[1.8,.39],[2.7,.38],[3,.4],[17.4,.38],[.6,.36],[4,.37],[.9,.34],[5.7,.37],[6,.32],[1.3,.32],[2.6,.3],[11.5,.3],[13,.32],[9.6,.29],[8,.27],[2.1,.26],[5.8,.25],[1.5,.24],[8.3,.2],[.4,.18],[9.3,.15],[.4,.11],[4,.11],[1.7,.09],[7.4,.08],[13.6,.1],[4.9,.08],[2.3,.03],[3.7,.02],[9,.03],[4.8,.02],[1.3,0],[5,0],[0,0]];

const Dd1_h2 = [[.3,2.98],[.8,2.95],[3,2.97],[3.9,2.93],[4.4,2.98],[5.6,2.9],[8.6,2.95],[9.4,2.93],[14.9,3],[15.3,2.99],[.2,2.86],[1.4,2.83],[1.1,2.74],[2.3,2.9],[2.8,2.78],[4,2.83],[5.2,2.86],[6.3,2.76],[7.4,2.72],[8.9,2.73],[2.5,2.68],[3.5,2.65],[.7,2.67],[1.9,2.6],[5.4,2.64],[6.1,2.62],[8.7,2.5],[10.1,2.47],[11.1,2.5],[19.3,2.5],[.3,2.55],[1.3,2.57],[2.1,2.53],[3.3,2.46],[4.2,2.52],[5,2.48],[7,2.53],[.6,2.4],[1.7,2.44],[2.8,2.38],[3.9,2.4],[6.3,2.44],[7.9,2.33],[15.5,2.38],[16,2.22],[16.4,2.12],[16.2,2.08],[.1,2.3],[1.1,2.32],[2.2,2.28],[3.2,2.25],[4.6,2.3],[5.8,2.27],[6.8,2.17],[9.3,2.23],[11.9,2.16],[12.7,2.08],[13.2,2.05],[.4,2.16],[1.6,2.2],[2.6,2.15],[3.7,2.1],[4.8,2.2],[7.7,2.07],[.9,2.03],[1.9,2.07],[3.2,1.98],[5.4,2.08],[9,1.99],[.2,1.93],[1.3,1.97],[2.3,1.9],[4.2,1.9],[5.1,1.94],[5.7,1.85],[7.5,1.87],[6.6,1.92],[11.1,1.82],[12.8,1.9],[10.3,1.77],[.6,1.83],[1.7,1.74],[2.9,1.79],[3.6,1.72],[5.1,1.75],[6.2,1.7],[8.1,1.71],[9,1.8],[13.2,1.68],[.3,1.66],[1.2,1.62],[2.4,1.58],[4,1.63],[6.8,1.6],[9.4,1.58],[10.4,1.55],[.8,1.49],[1.9,1.45],[3.1,1.52],[5.4,1.47],[7.8,1.5],[8.8,1.43],[10.2,1.38],[11.5,1.4],[12.3,1.4],[.1,1.42],[1.4,1.38],[2.7,1.36],[4.5,1.42],[6.3,1.35],[7.1,1.27],[9.4,1.25],[.5,1.28],[1.7,1.26],[3.3,1.23],[4,1.32],[5.5,1.22],[6.8,1.18],[8.4,1.22],[1,1.14],[2.3,1.17],[3.6,1.1],[4.7,1.15],[5.9,1.07],[7.6,1.12],[.3,1.04],[1.4,1.01],[2.8,1.04],[4.1,.98],[6.5,1.02],[8,.95],[9.2,.96],[15.7,1],[17.3,.78],[16.6,.92],[.8,.91],[1.9,.86],[3.3,.85],[5,.92],[6,.83],[7.2,.78],[.1,.8],[1.2,.73],[2.5,.76],[4.3,.77],[5.4,.7],[8.3,.75],[6.6,.68],[.6,.6],[1.7,.63],[3,.58],[4.7,.6],[7.7,.62],[12.8,.63],[13.2,.53],[20.3,.55],[.3,.47],[1.1,.43],[2.1,.48],[3.5,.43],[5.7,.45],[9.2,.4],[10.5,.42],[10.2,.34],[.8,.35],[1.6,.3],[2.8,.36],[4.2,.3],[6.6,.33],[14.3,.33],[11.7,.3],[.4,.25],[1.3,.2],[2.4,.22],[3.3,.18],[5,.2],[7.5,.18],[.7,.13],[1.8,.1],[3.9,.14],[5,.08],[5.4,.05],[6,.04],[7.2,.05],[12.6,.05],[.2,.1],[.4,.02],[0,0],[4.9,0],[1.7,2.9],[2.4,2.63],[1,2.42],[3.4,2.14],[.5,2.02],[2.6,1.97],[.9,1.72],[2.1,1.66],[3.9,1.75],[1.6,1.54],[2.9,1.6],[4.6,1.58],[.5,1.15],[2.1,1.38],[3.6,1.3],[1.3,.88],[2.4,.98],[3.5,.62],[4.4,.55],[2.1,.62],[.9,.2]];

const Dd2_h2 = [[.1,2.97],[1.1,2.95],[2.2,2.98],[4.4,2.97],[5,2.94],[7.5,2.98],[8.6,2.98],[15.3,2.98],[15.6,2.87],[.5,2.9],[1.4,2.83],[2.8,2.88],[3.8,2.92],[4.8,2.84],[6.3,2.86],[.2,2.8],[1.8,2.72],[3.2,2.75],[6,2.7],[7.2,2.77],[9.8,2.68],[11,2.74],[.7,2.65],[2.3,2.6],[.2,2.5],[4.2,2.63],[5.2,2.56],[6.9,2.59],[8.2,2.53],[.6,2.45],[1.1,2.48],[1.5,2.42],[2.6,2.47],[3.7,2.43],[5.7,2.41],[7.9,2.44],[.3,2.35],[1.7,2.31],[3.1,2.34],[4.4,2.28],[6.4,2.3],[9.1,2.35],[19.6,2.22],[.8,2.2],[2,2.18],[3.4,2.22],[4.9,2.17],[7.3,2.22],[9.9,2.14],[11.2,2.2],[.1,2.13],[1.2,2.08],[2.6,2.11],[5.2,2.05],[6,2.03],[5.4,1.98],[8.3,2.1],[10.2,2.02],[.5,1.95],[1.7,1.92],[3,1.97],[4.3,1.94],[7,1.9],[9.2,1.88],[10.9,1.87],[12.6,1.88],[.9,1.8],[2.3,1.84],[3.5,1.78],[6.5,1.79],[8,1.76],[.2,1.72],[1.4,1.68],[2.7,1.71],[4.7,1.72],[5.8,1.66],[7.5,1.6],[10.4,1.64],[12.8,1.67],[.6,1.58],[1.8,1.55],[3.3,1.57],[6.1,1.53],[8.7,1.52],[9.6,1.48],[11.2,1.55],[.1,1.45],[1.1,1.41],[2.2,1.46],[3.9,1.43],[5.1,1.47],[7.3,1.4],[.8,1.33],[1.7,1.28],[3,1.36],[4.6,1.31],[6.5,1.27],[9.3,1.3],[10.9,1.26],[2.4,1.22],[3.8,1.19],[5.5,1.21],[7.9,1.18],[.3,1.2],[1.2,1.13],[4.7,1.1],[6.9,1.1],[8.8,1.08],[10,1],[14.3,1],[11.3,.97],[.7,1.05],[1.9,1.02],[3.2,1.04],[5.8,.98],[.2,.93],[1.3,.9],[2.7,.92],[4.2,.94],[7.5,.92],[9.2,.88],[12.4,.97],[16.9,.83],[17.4,.75],[.9,.82],[2.1,.79],[3.5,.81],[5,.78],[6.2,.85],[8.2,.79],[.4,.7],[1.6,.68],[2.9,.71],[4.5,.66],[6.9,.72],[.1,.6],[1.1,.56],[2.3,.61],[3.7,.58],[5.4,.57],[7.6,.56],[10.5,.55],[13.5,.45],[.7,.48],[1.8,.45],[3.1,.51],[4.9,.46],[6.3,.5],[8.7,.47],[12.7,.55],[11.3,.4],[.3,.38],[1.3,.34],[2.5,.37],[4,.34],[7.2,.38],[9.6,.33],[.9,.25],[2,.23],[3.4,.26],[5.6,.24],[8.2,.25],[13,.32],[12.3,.27],[.4,.15],[1.5,.12],[2.7,.16],[4.4,.14],[7,.15],[11.4,.1],[16.4,.28],[.8,.06],[3,.05],[4.6,.08],[4.9,.02],[10.3,.05],[10.7,.02],[4.2,.03],[0,0],[.3,.02],[.4,2.72],[1,2.55],[.8,2.32],[1.3,2.27],[2.1,2.4],[.5,2.07],[1.6,2.1],[.3,1.85],[1.3,1.83],[2.6,1.62],[1.1,1.63],[.6,1.27],[2.1,1.13],[.5,1.1],[1,.98],[2.2,.95],[.5,.78],[1.2,.62],[2.6,.52],[.5,.52],[1.6,.4],[.9,.42]];

const Dd3_h2 = [[.3,2.98],[1.1,2.92],[2.4,2.98],[3.1,2.95],[4.2,2.98],[5.9,2.9],[9.5,2.95],[14.9,3],[.6,2.85],[1.8,2.85],[3.5,2.85],[4.7,2.88],[7.2,2.82],[10.6,2.85],[12.7,2.83],[.2,2.75],[1.3,2.72],[2.4,2.75],[3.9,2.72],[5.1,2.75],[8.3,2.7],[10,2.65],[12.2,2.67],[16,2.67],[.8,2.62],[1.9,2.62],[3.2,2.6],[6,2.63],[9.3,2.56],[.1,2.52],[1.2,2.5],[2.7,2.53],[4.3,2.48],[5.3,2.51],[7.8,2.5],[10.8,2.55],[11.9,2.45],[15.8,2.3],[18.4,2.3],[.6,2.42],[1.6,2.4],[3.6,2.43],[4.8,2.38],[6.6,2.37],[9.5,2.42],[13.2,2.38],[.2,2.3],[1,2.31],[2.2,2.33],[3.1,2.27],[4.3,2.3],[5.6,2.28],[8.5,2.24],[10.3,2.2],[11.2,2.25],[.7,2.2],[1.8,2.18],[2.8,2.16],[3.9,2.13],[7.2,2.14],[13,2.12],[.1,2.07],[1.3,2.04],[3.3,2.03],[4.9,2.06],[6.1,2.03],[9.2,2],[14.5,2],[.5,1.95],[2,1.92],[2.6,1.89],[4.2,1.91],[7.8,1.93],[10.3,1.88],[11.8,1.85],[1,1.82],[3,1.83],[5.4,1.81],[6.7,1.78],[14.9,1.8],[.2,1.73],[1.6,1.71],[2.2,1.73],[4.5,1.7],[8,1.72],[9.5,1.68],[16.2,1.7],[.7,1.62],[3.5,1.59],[5.9,1.62],[7.2,1.58],[10.8,1.6],[12.6,1.58],[.1,1.52],[1.3,1.5],[2.6,1.48],[4.2,1.51],[6.5,1.46],[8.4,1.47],[15.3,1.45],[.9,1.4],[2,1.37],[3.1,1.41],[5,1.36],[7.7,1.37],[9.9,1.33],[12.8,1.38],[.3,1.3],[1.5,1.29],[4,1.27],[6,1.3],[8.9,1.26],[14.7,1.17],[18.9,1.22],[.7,1.2],[2.5,1.21],[3.4,1.17],[5.4,1.16],[7.1,1.18],[10.3,1.13],[13.2,1.15],[1.1,1.08],[2,1.09],[4.4,1.06],[6.4,1.07],[.2,1],[1.6,.97],[3,1.01],[5.1,.98],[8,1.02],[9.7,1],[10,.9],[10.6,.88],[.7,.92],[2.4,.89],[3.7,.87],[6.8,.91],[1.1,.82],[4.4,.79],[5.7,.82],[9.2,.85],[14.8,.75],[15.1,.68],[.2,.72],[1.7,.71],[3,.73],[7.5,.72],[.7,.62],[2.3,.6],[4.8,.59],[6.1,.63],[8.3,.65],[1.2,.52],[3.5,.51],[5.4,.49],[7.2,.52],[.3,.42],[2,.41],[4.2,.42],[9.1,.45],[.8,.32],[2.7,.31],[5.9,.33],[7.8,.29],[1.5,.22],[3.3,.21],[4.9,.22],[8.8,.22],[14.2,.18],[.4,.12],[2.4,.12],[6.6,.12],[9.8,.1],[10.4,.07],[1.1,.05],[3.8,.05],[5.2,.03],[12.7,.1],[0,0],[.2,.05],[.9,2.75],[2.9,2.88],[1.4,2.55],[3.3,2.3],[.4,2.12],[1.5,2.13],[.9,2],[1.9,1.65],[1.2,1.7],[.4,1.6],[1.1,1.35],[2.5,1.05],[1.5,1.12],[.4,.85],[1.4,.62],[.9,.5],[2.7,.62],[1.3,.3],[1.9,.15],[.6,.2],[2.1,.85],[3,.48]];

const h1_h2 = [[.07,2.78],[.34,2.81],[.43,2.99],[.62,2.76],[.78,2.76],[.83,2.95],[.94,2.79],[1.01,2.83],[1.02,2.94],[1.12,2.73],[1.25,2.82],[1.3,2.84],[1.39,2.91],[1.39,2.87],[1.48,2.78],[1.54,2.72],[1.58,2.74],[1.73,2.9],[1.81,2.79],[1.95,2.95],[2.09,2.85],[2.19,2.75],[2.41,2.7],[2.44,2.64],[2.53,2.83],[2.55,2.93],[2.69,2.73],[2.83,2.69],[2.92,2.84],[2.91,2.98],[.14,2.67],[.79,2.62],[1.84,2.61],[2.21,2.57],[2.33,2.53],[.21,2.49],[.17,2.45],[1.04,2.5],[1,2.45],[1.5,2.56],[1.5,2.5],[1.41,2.45],[.6,2.44],[2.28,2.41],[2.12,2.42],[2.53,2.46],[2.67,2.49],[2.76,2.47],[2.81,2.44],[2.89,2.51],[2.99,2.41],[.07,2.35],[.32,2.39],[1.17,2.37],[1.26,2.38],[1.81,2.39],[1.74,2.32],[2.6,2.37],[1.97,2.32],[.75,2.33],[.69,2.29],[1,2.3],[.95,2.24],[2.12,2.29],[2.12,2.21],[1.61,2.27],[1.67,2.24],[.44,2.24],[.49,2.2],[.54,2.17],[1.28,2.22],[.89,2.17],[1.74,2.16],[1.32,2.14],[.68,2.13],[2.99,2.2],[2.61,2.16],[2.66,2.12],[2.61,2.1],[1.89,2.09],[3,2.05],[.13,2.02],[1.61,2.03],[2.52,2.02],[1.18,1.99],[.23,1.95],[1.03,1.96],[2.89,1.97],[2.21,1.93],[2.28,1.91],[1.42,1.91],[.01,1.88],[.33,1.88],[.58,1.9],[.61,1.85],[1.49,1.86],[1.84,1.88],[1.9,1.87],[1.97,1.83],[2.51,1.87],[2.74,1.89],[2.77,1.83],[2.44,1.83],[2.36,1.82],[2.41,1.78],[1.1,1.81],[.25,1.8],[.23,1.75],[.47,1.77],[2.2,1.74],[2.82,1.73],[2.91,1.71],[1.59,1.73],[.82,1.69],[1.81,1.69],[.34,1.67],[1.62,1.66],[1.67,1.64],[1.72,1.61],[.7,1.62],[.71,1.57],[.14,1.59],[2.06,1.59],[2.55,1.55],[.33,1.53],[.38,1.54],[1.02,1.54],[1.07,1.5],[1.84,1.52],[2.1,1.51],[2.31,1.51],[2.91,1.5],[2.06,1.46],[.34,1.45],[.4,1.44],[1.88,1.43],[.36,1.41],[.39,1.37],[1.49,1.4],[1.67,1.41],[1.25,1.38],[1.02,1.38],[.87,1.34],[.55,1.33],[2.91,1.33],[2.05,1.32],[1.72,1.31],[2.68,1.31],[.25,1.3],[1.1,1.29],[1.15,1.3],[1.57,1.28],[2.18,1.26],[2.41,1.26],[1.5,1.24],[1.44,1.22],[2.77,1.22],[1.96,1.23],[1.94,1.18],[.1,1.19],[.46,1.15],[.98,1.13],[2.87,1.16],[2.84,1.11],[1.18,1.1],[.81,1.06],[2.53,1.03],[2.76,1.01],[2.75,.97],[.21,.97],[.55,.95],[.94,.98],[1.17,.97],[1.38,.95],[1.88,.98],[2.07,.97],[.08,.91],[.89,.92],[2.38,.93],[1.98,.9],[2.62,.89],[2.67,.88],[.45,.87],[1.74,.89],[2.99,.85],[1.26,.83],[.94,.82],[2.86,.82],[2.4,.78],[.22,.76],[2.65,.75],[.47,.73],[1.37,.74],[1.99,.74],[1.46,.74],[1.33,.7],[1.74,.72],[.9,.71],[.07,.71],[1.59,.7],[1.6,.64],[1.27,.66],[2.52,.66],[2.29,.68],[.3,.62],[2.17,.62],[.44,.61],[1.05,.58],[.73,.59],[.69,.57],[2.61,.53],[.55,.52],[1.38,.5],[.58,.48],[1.9,.49],[.17,.46],[1.88,.45],[2.75,.44],[.79,.43],[1.4,.42],[.21,.39],[1.52,.4],[2.37,.4],[1.18,.38],[1.04,.37],[2.68,.38],[2.81,.36],[2.93,.37],[1.58,.36],[.24,.34],[2.39,.35],[1.16,.34],[.47,.33],[1.98,.32],[1.02,.3],[2.78,.3],[.11,.28],[.62,.29],[.65,.25],[2.44,.27],[.78,.24],[1.15,.19],[2.23,.18],[.87,.15],[2.31,.11],[1.26,.1],[1.02,.08],[2.74,.1],[2.86,.09],[2.93,.08],[.38,.04],[1.81,.04],[2.54,.03],[2.68,.01],[.88,0],[0,0]];

const colLefts = [142,750,1356,1965,2572];
const colRights = [679,1285,1893,2501,3110];
const rowTops = [34,463,894,1323,1754];
const rowBottoms = [415,846,1275,1708,2137];
const panels = [
  {row:0,col:0,data:d0_Dd1},
  {row:1,col:0,data:d0_Dd2},{row:1,col:1,data:Dd1_Dd2},
  {row:2,col:0,data:d0_Dd3},{row:2,col:1,data:Dd1_Dd3},{row:2,col:2,data:Dd2_Dd3},
  {row:3,col:0,data:d0_h1},{row:3,col:1,data:Dd1_h1},{row:3,col:2,data:Dd2_h1},{row:3,col:3,data:Dd3_h1},
  {row:4,col:0,data:d0_h2},{row:4,col:1,data:Dd1_h2},{row:4,col:2,data:Dd2_h2},{row:4,col:3,data:Dd3_h2},{row:4,col:4,data:h1_h2}
];
const ink='#2b2b2b', gridCol='#d9d9d9', frame='#404040', dot='#0f6fb3';
const tickFont={fontFamily:'Liberation Sans',fontSize:36,color:ink,textBorderColor:ink,textBorderWidth:1};
const nameFont={fontFamily:'Liberation Sans',fontSize:37,fontWeight:'bold',color:'#333'};
const grid=[],xAxis=[],yAxis=[],series=[];
const inner={show:true,lineStyle:{color:gridCol,width:3},showMinLine:false,showMaxLine:false};
panels.forEach((p,i)=>{
  grid.push({left:colLefts[p.col],top:rowTops[p.row],width:colRights[p.col]-colLefts[p.col],height:rowBottoms[p.row]-rowTops[p.row],show:true,borderColor:frame,borderWidth:4});
  const xm=p.col===4?3:25, xi=p.col===4?1:5;
  const ym=p.row>=3?3:25, yi=p.row>=3?1:5;
  xAxis.push({gridIndex:i,type:'value',min:0,max:xm,interval:xi,position:'bottom',
    name:p.row===4?variables[p.col]:'',nameLocation:'middle',nameGap:74,nameTextStyle:nameFont,
    axisLine:{show:false},axisTick:{show:true,inside:true,length:7,lineStyle:{color:frame,width:2}},
    splitLine:inner,
    axisLabel:{show:p.row===4,margin:18,hideOverlap:false,showMinLabel:true,showMaxLabel:true,...tickFont}});
  yAxis.push({gridIndex:i,type:'value',min:0,max:ym,interval:yi,position:'left',
    name:p.col===0?variables[p.row+1]:'',nameLocation:'middle',nameGap:p.row>=3?48:68,nameTextStyle:nameFont,
    axisLine:{show:false},axisTick:{show:true,inside:true,length:7,lineStyle:{color:frame,width:2}},
    splitLine:inner,
    axisLabel:{show:p.col===0,margin:10,hideOverlap:false,showMinLabel:true,showMaxLabel:true,...tickFont}});
  series.push({type:'scatter',xAxisIndex:i,yAxisIndex:i,data:p.data,symbol:'circle',symbolSize:10,clip:false,
    itemStyle:{color:dot,opacity:1},silent:true,animation:false,z:5});
});
const chart=echarts.init(document.getElementById('c'),null,{renderer:'canvas'});
chart.setOption({animation:false,backgroundColor:'#fff',grid,xAxis,yAxis,series});
</script></body></html>
